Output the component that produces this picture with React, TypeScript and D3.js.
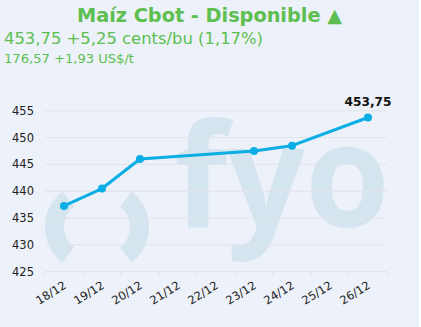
import React from "react";
import * as d3 from "d3";

const categories = ["18/12", "19/12", "20/12", "21/12", "22/12", "23/12", "24/12", "25/12", "26/12"];
const pointDates = ["18/12", "19/12", "20/12", "23/12", "24/12", "26/12"];
const pointValues = [437.25, 440.5, 446, 447.5, 448.5, 453.75];
const yTicks = [425, 430, 435, 440, 445, 450, 455];
const title = "Maíz Cbot - Disponible ▲";
const subtitle = "453,75 +5,25 cents/bu (1,17%)";
const subtitle2 = "176,57 +1,93 US$/t";
const lastLabel = "453,75";

const W = 421;
const H = 327;
const FONT = "Verdana, 'DejaVu Sans', sans-serif";

export default function App() {
  const x = d3.scaleBand<string>().domain(categories).range([45, 387]);
  const y = d3.scaleLinear().domain([425, 455]).range([271.6, 110.8]);
  const cx = (c: string) => (x(c) as number) + x.bandwidth() / 2;
  const pts = pointDates.map((d, i) => [cx(d), y(pointValues[i])] as [number, number]);
  const line = d3.line()(pts) as string;
  const tickXs = d3.range(categories.length + 1).map((i) => 45 + i * x.bandwidth());
  const arc = d3.arc();
  const th = (52 * Math.PI) / 180;
  const leftParen = arc({ innerRadius: 26, outerRadius: 45, startAngle: -Math.PI / 2 - th, endAngle: -Math.PI / 2 + th } as any) as string;
  const rightParen = arc({ innerRadius: 26, outerRadius: 45, startAngle: Math.PI / 2 - th, endAngle: Math.PI / 2 + th } as any) as string;
  const last = pts[pts.length - 1];

  return (
    <svg width={W} height={H} style={{ position: "absolute", left: 0, top: 0 }}>
      <rect x={0} y={0} width={W} height={H} fill="#ffffff" />
      <rect x={0} y={0} width={419} height={H} fill="#edf1f9" />
      {/* watermark */}
      <g fill="#d5e5ef">
        <path d={leftParen} transform="translate(90,227)" />
        <path d={rightParen} transform="translate(104,227)" />
        <text x={174} y={227} fontFamily="'Open Sans', sans-serif" fontWeight={700} fontSize={144} textLength={216} lengthAdjust="spacingAndGlyphs">fyo</text>
      </g>
      {/* grid */}
      {yTicks.map((t) => (
        <line key={t} x1={45} x2={387} y1={y(t)} y2={y(t)} stroke="#e2e3e6" strokeWidth={1} />
      ))}
      {yTicks.map((t) => (
        <text key={"l" + t} x={34} y={y(t)} dy="0.35em" textAnchor="end" fontFamily={FONT} fontSize={11.5} fill="#222">{t}</text>
      ))}
      {tickXs.map((tx, i) => (
        <line key={"t" + i} x1={tx} x2={tx} y1={271.6} y2={276} stroke="#e2e3e6" />
      ))}
      {categories.map((c) => (
        <text key={c} transform={`translate(${cx(c) + 1},${284}) rotate(-32)`} textAnchor="end" dy="0.35em" fontFamily={FONT} fontSize={11.5} fill="#222">{c}</text>
      ))}
      {/* series */}
      <path d={line} fill="none" stroke="#0aaee5" strokeWidth={3} strokeLinejoin="round" />
      {pts.map((p, i) => (
        <circle key={i} cx={p[0]} cy={p[1]} r={4} fill="#0aaee5" />
      ))}
      <text x={last[0]} y={106} textAnchor="middle" fontFamily={FONT} fontWeight="bold" fontSize={12} fill="#111" textLength={47} lengthAdjust="spacingAndGlyphs">{lastLabel}</text>
      {/* titles */}
      <text x={209.5} y={22} textAnchor="middle" fontFamily={FONT} fontWeight="bold" fontSize={19} fill="#5cbf4f" textLength={265} lengthAdjust="spacingAndGlyphs">{title}</text>
      <text x={4} y={44} fontFamily={FONT} fontSize={16.5} fill="#5cbf4f" textLength={259} lengthAdjust="spacingAndGlyphs">{subtitle}</text>
      <text x={4} y={63} fontFamily={FONT} fontSize={12} fill="#5cbf4f" textLength={130} lengthAdjust="spacingAndGlyphs">{subtitle2}</text>
    </svg>
  );
}
